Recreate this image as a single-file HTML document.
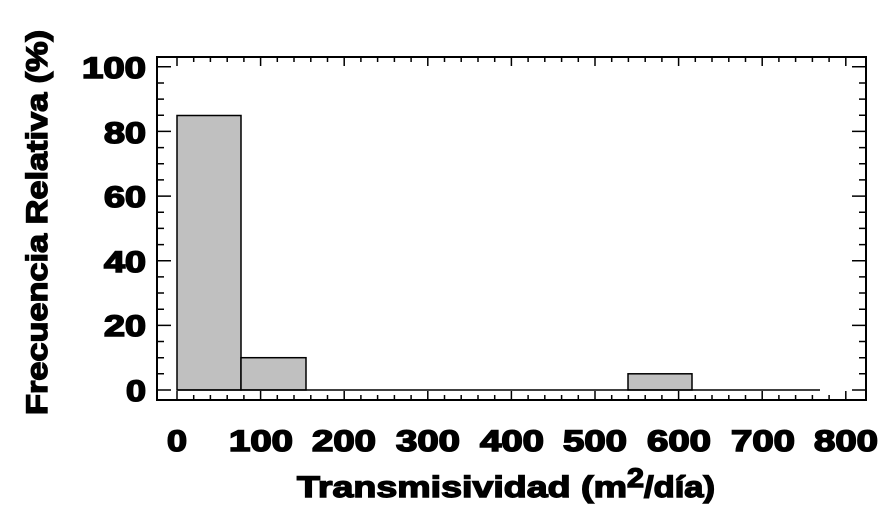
<!DOCTYPE html><html><head><style>body{margin:0;background:#fff}</style></head><body>
<svg width="891" height="522" xmlns="http://www.w3.org/2000/svg" font-family="Liberation Sans, Arial, sans-serif" font-weight="bold">
<rect x="157" y="57" width="709" height="343" fill="#fff" stroke="#000" stroke-width="2"/>
<g fill="#c0c0c0" stroke="#000" stroke-width="1.5">
<rect x="177" y="115.5" width="64" height="274.5"/>
<rect x="241" y="357.7" width="65" height="32.3"/>
<rect x="628" y="373.8" width="64" height="16.2"/>
</g>
<line x1="177" y1="390" x2="820" y2="390" stroke="#000" stroke-width="1.5"/>
<g font-size="30" text-anchor="end" fill="#000" stroke="#000" stroke-width="1.6">
<text x="146" y="401" textLength="20" lengthAdjust="spacingAndGlyphs">0</text>
<text x="146" y="336" textLength="42" lengthAdjust="spacingAndGlyphs">20</text>
<text x="146" y="272" textLength="42" lengthAdjust="spacingAndGlyphs">40</text>
<text x="146" y="207" textLength="42" lengthAdjust="spacingAndGlyphs">60</text>
<text x="146" y="143" textLength="42" lengthAdjust="spacingAndGlyphs">80</text>
<text x="146" y="78" textLength="64" lengthAdjust="spacingAndGlyphs">100</text>
</g>
<g font-size="30" text-anchor="middle" fill="#000" stroke="#000" stroke-width="1.6">
<text x="177" y="451" textLength="20" lengthAdjust="spacingAndGlyphs">0</text>
<text x="261" y="451" textLength="64" lengthAdjust="spacingAndGlyphs">100</text>
<text x="344" y="451" textLength="64" lengthAdjust="spacingAndGlyphs">200</text>
<text x="428" y="451" textLength="64" lengthAdjust="spacingAndGlyphs">300</text>
<text x="512" y="451" textLength="64" lengthAdjust="spacingAndGlyphs">400</text>
<text x="595" y="451" textLength="64" lengthAdjust="spacingAndGlyphs">500</text>
<text x="679" y="451" textLength="64" lengthAdjust="spacingAndGlyphs">600</text>
<text x="763" y="451" textLength="64" lengthAdjust="spacingAndGlyphs">700</text>
<text x="846" y="451" textLength="64" lengthAdjust="spacingAndGlyphs">800</text>
</g>
<g font-size="30" fill="#000" stroke="#000" stroke-width="1.4">
<text x="297" y="497" textLength="330" lengthAdjust="spacingAndGlyphs">Transmisividad (m</text>
<text x="627" y="487" font-size="27" textLength="17" lengthAdjust="spacingAndGlyphs">2</text>
<text x="644" y="497" textLength="71" lengthAdjust="spacingAndGlyphs">/día)</text>
<text transform="translate(47,415) rotate(-90)" textLength="385" lengthAdjust="spacingAndGlyphs">Frecuencia Relativa (%)</text>
</g>
<g stroke="#000" stroke-width="1.5">
<path d="M177 400v-9M193.7 400v-5M210.4 400v-5M227.2 400v-5M243.9 400v-5M260.6 400v-9M277.3 400v-5M294 400v-5M310.8 400v-5M327.5 400v-5M344.2 400v-9M360.9 400v-5M377.6 400v-5M394.4 400v-5M411.1 400v-5M427.8 400v-9M444.5 400v-5M461.2 400v-5M478 400v-5M494.7 400v-5M511.4 400v-9M528.1 400v-5M544.8 400v-5M561.6 400v-5M578.3 400v-5M595 400v-9M611.7 400v-5M628.4 400v-5M645.2 400v-5M661.9 400v-5M678.6 400v-9M695.3 400v-5M712 400v-5M728.8 400v-5M745.5 400v-5M762.2 400v-9M778.9 400v-5M795.6 400v-5M812.4 400v-5M829.1 400v-5M845.8 400v-9"/>
<path d="M177 57v9M193.7 57v5M210.4 57v5M227.2 57v5M243.9 57v5M260.6 57v9M277.3 57v5M294 57v5M310.8 57v5M327.5 57v5M344.2 57v9M360.9 57v5M377.6 57v5M394.4 57v5M411.1 57v5M427.8 57v9M444.5 57v5M461.2 57v5M478 57v5M494.7 57v5M511.4 57v9M528.1 57v5M544.8 57v5M561.6 57v5M578.3 57v5M595 57v9M611.7 57v5M628.4 57v5M645.2 57v5M661.9 57v5M678.6 57v9M695.3 57v5M712 57v5M728.8 57v5M745.5 57v5M762.2 57v9M778.9 57v5M795.6 57v5M812.4 57v5M829.1 57v5M845.8 57v9"/>
<path d="M157 390h14M157 373.8h7M157 357.7h7M157 341.5h7M157 325.4h14M157 309.2h7M157 293h7M157 276.9h7M157 260.7h14M157 244.6h7M157 228.4h7M157 212.2h7M157 196.1h14M157 179.9h7M157 163.8h7M157 147.6h7M157 131.4h14M157 115.3h7M157 99.1h7M157 83h7M157 66.8h14"/>
<path d="M866 390h-14M866 373.8h-7M866 357.7h-7M866 341.5h-7M866 325.4h-14M866 309.2h-7M866 293h-7M866 276.9h-7M866 260.7h-14M866 244.6h-7M866 228.4h-7M866 212.2h-7M866 196.1h-14M866 179.9h-7M866 163.8h-7M866 147.6h-7M866 131.4h-14M866 115.3h-7M866 99.1h-7M866 83h-7M866 66.8h-14"/>
</g>
</svg>
</body></html>
